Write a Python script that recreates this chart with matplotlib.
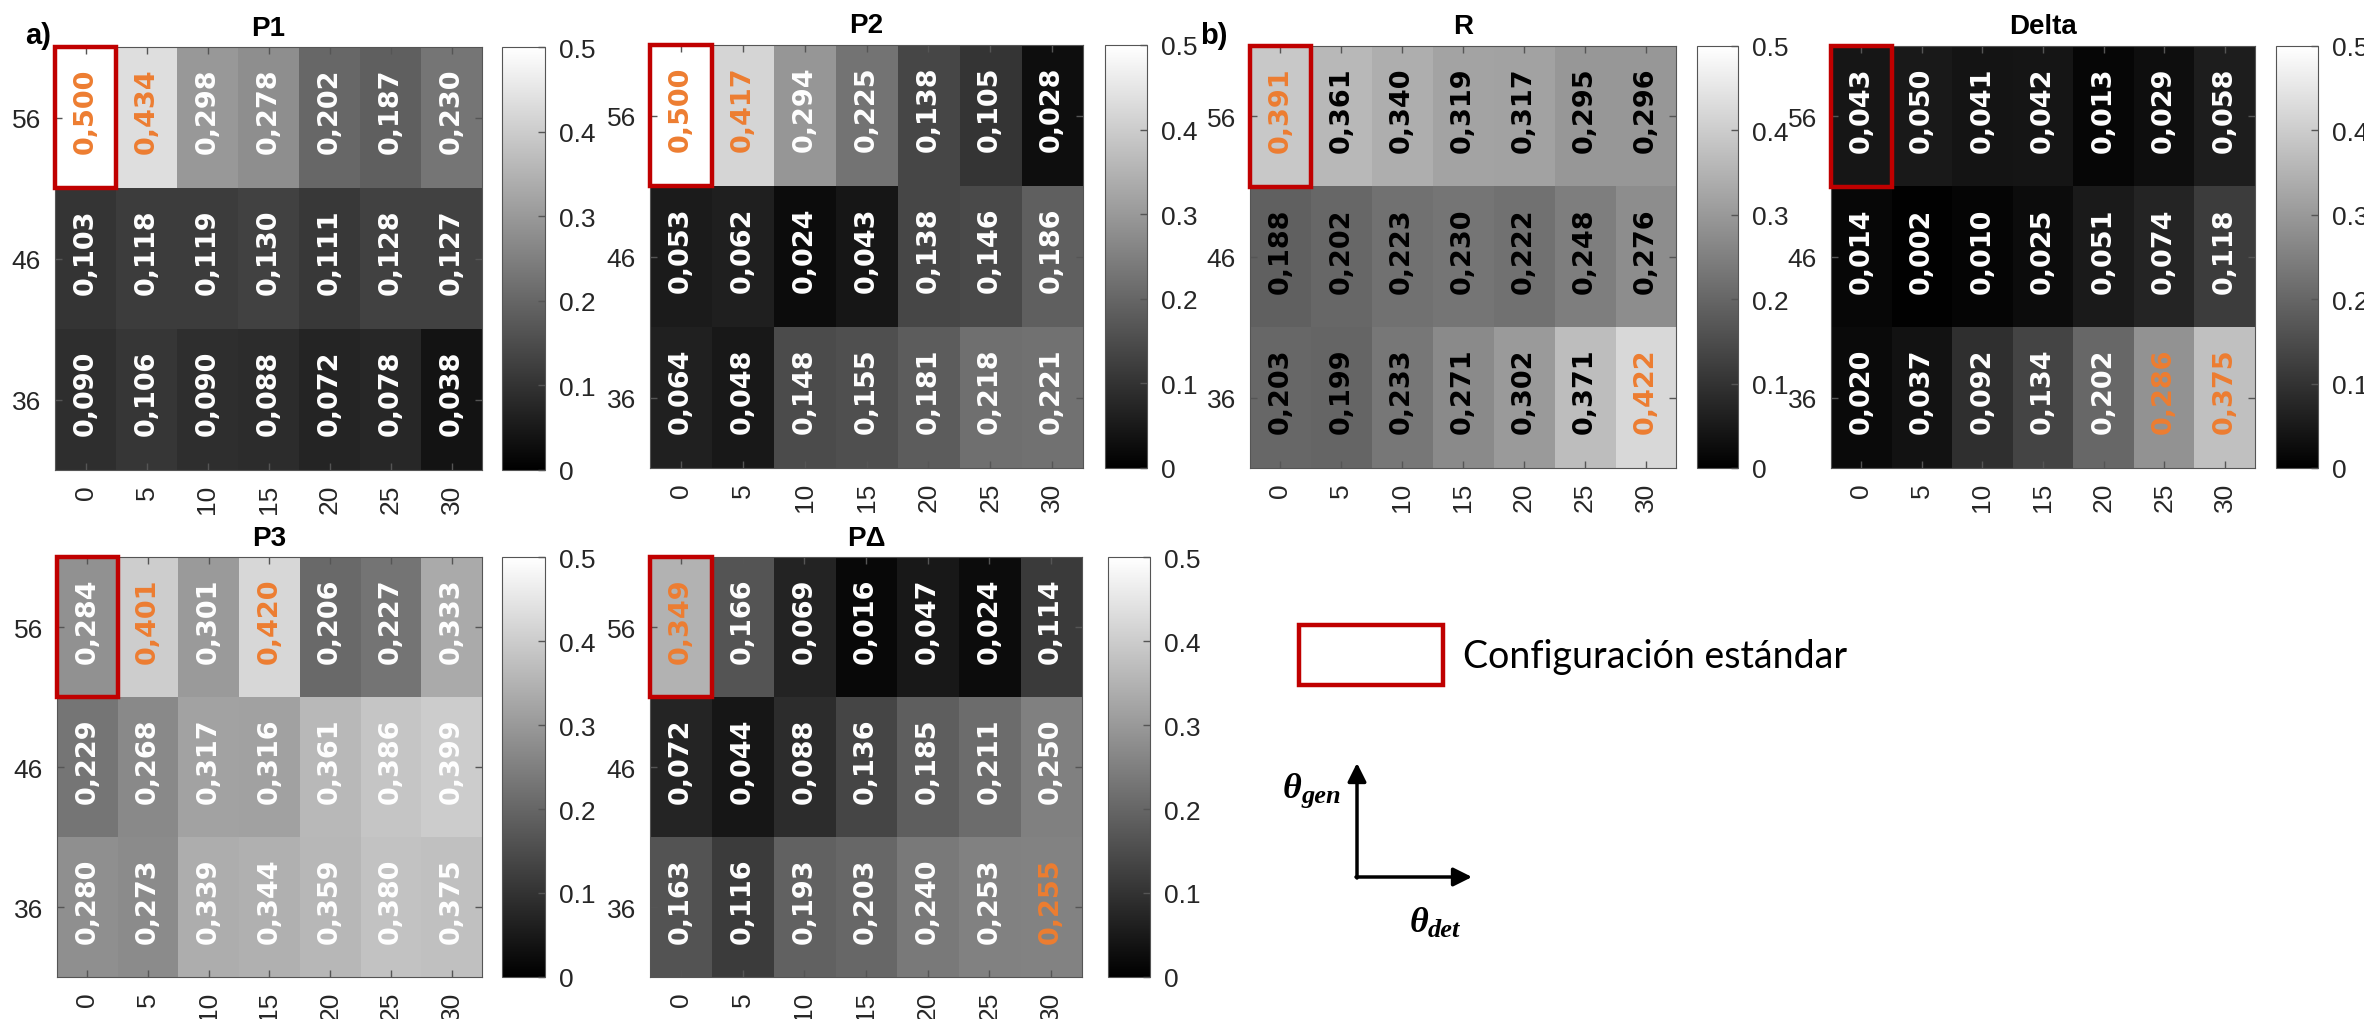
import matplotlib
matplotlib.use('Agg')
import matplotlib.pyplot as plt
import numpy as np
from matplotlib.patches import Rectangle

plt.rcParams['font.family'] = ['Liberation Sans', 'DejaVu Sans']

theta_det = [0, 5, 10, 15, 20, 25, 30]
theta_gen = [56, 46, 36]

p1 = [[0.500, 0.434, 0.298, 0.278, 0.202, 0.187, 0.230],
      [0.103, 0.118, 0.119, 0.130, 0.111, 0.128, 0.127],
      [0.090, 0.106, 0.090, 0.088, 0.072, 0.078, 0.038]]
p2 = [[0.500, 0.417, 0.294, 0.225, 0.138, 0.105, 0.028],
      [0.053, 0.062, 0.024, 0.043, 0.138, 0.146, 0.186],
      [0.064, 0.048, 0.148, 0.155, 0.181, 0.218, 0.221]]
r_vals = [[0.391, 0.361, 0.340, 0.319, 0.317, 0.295, 0.296],
          [0.188, 0.202, 0.223, 0.230, 0.222, 0.248, 0.276],
          [0.203, 0.199, 0.233, 0.271, 0.302, 0.371, 0.422]]
delta = [[0.043, 0.050, 0.041, 0.042, 0.013, 0.029, 0.058],
         [0.014, 0.002, 0.010, 0.025, 0.051, 0.074, 0.118],
         [0.020, 0.037, 0.092, 0.134, 0.202, 0.286, 0.375]]
p3 = [[0.284, 0.401, 0.301, 0.420, 0.206, 0.227, 0.333],
      [0.229, 0.268, 0.317, 0.316, 0.361, 0.386, 0.399],
      [0.280, 0.273, 0.339, 0.344, 0.359, 0.380, 0.375]]
pdelta = [[0.349, 0.166, 0.069, 0.016, 0.047, 0.024, 0.114],
          [0.072, 0.044, 0.088, 0.136, 0.185, 0.211, 0.250],
          [0.163, 0.116, 0.193, 0.203, 0.240, 0.253, 0.255]]

# (row, col) cells whose label is orange
p1_hl = [(0, 0), (0, 1)]
p2_hl = [(0, 0), (0, 1)]
r_hl = [(0, 0), (2, 6)]
delta_hl = [(2, 5), (2, 6)]
p3_hl = [(0, 1), (0, 3)]
pdelta_hl = [(0, 0), (2, 6)]

ORANGE = '#ED7D31'
RED = '#C00000'
EDGE = '#555555'
TICKC = '#262626'

W, H = 2364, 1020
fig = plt.figure(figsize=(W / 100, H / 100), dpi=100)


def px(x, y, w, h):
    return [x / W, 1 - (y + h) / H, w / W, h / H]


def heat(box, cbox, data, title, hl, txt_color='white'):
    ax = fig.add_axes(px(*box))
    im = ax.imshow(np.array(data), cmap='gray', vmin=0, vmax=0.5, aspect='auto')
    ax.set_xticks(range(len(theta_det)))
    ax.set_xticklabels([str(v) for v in theta_det], rotation=90)
    ax.set_yticks(range(len(theta_gen)))
    ax.set_yticklabels([str(v) for v in theta_gen])
    ax.tick_params(direction='in', length=5, width=1, color=EDGE, labelcolor=TICKC,
                   labelsize=19, top=True, right=True, pad=10)
    for s in ax.spines.values():
        s.set_color(EDGE)
    ax.set_title(title, fontsize=20, fontweight='bold', pad=9)
    for i, row in enumerate(data):
        for j, v in enumerate(row):
            c = ORANGE if (i, j) in hl else txt_color
            ax.text(j, i - 0.05, f'{v:.3f}'.replace('.', ','), rotation=90, ha='center',
                    va='center', color=c, fontsize=19.5, fontweight='bold',
                    family='DejaVu Sans')
    ax.add_patch(Rectangle((-0.5, -0.5), 1, 1, fill=False, ec=RED, lw=3.2,
                           clip_on=False, zorder=5))
    cax = fig.add_axes(px(*cbox))
    cb = fig.colorbar(im, cax=cax)
    cb.set_ticks([0, 0.1, 0.2, 0.3, 0.4, 0.5])
    cb.set_ticklabels(['0', '0.1', '0.2', '0.3', '0.4', '0.5'])
    cax.tick_params(direction='in', length=5, width=1, color=EDGE, labelcolor=TICKC,
                    labelsize=19, pad=10)
    cb.outline.set_edgecolor(EDGE)
    return ax


heat((55, 48, 427, 423), (502, 48, 43, 423), p1, 'P1', p1_hl)
heat((650, 46, 433, 423), (1105, 46, 42, 423), p2, 'P2', p2_hl)
heat((1250, 47, 426, 422), (1697, 47, 41, 422), r_vals, 'R', r_hl, txt_color='black')
heat((1831, 47, 424, 422), (2276, 47, 42, 422), delta, 'Delta', delta_hl)
heat((57, 558, 425, 420), (502, 558, 43, 420), p3, 'P3', p3_hl)
heat((650, 558, 432, 420), (1108, 558, 42, 420), pdelta, 'P\u0394', pdelta_hl)

# overlay in pixel coordinates for panel letters and the legend sketch
ov = fig.add_axes([0, 0, 1, 1], zorder=10)
ov.set_xlim(0, W)
ov.set_ylim(H, 0)
ov.axis('off')
ov.patch.set_alpha(0)

ov.text(25, 36, 'a)', fontsize=21, fontweight='bold', ha='left', va='center')
ov.text(1200, 36, 'b)', fontsize=21, fontweight='bold', ha='left', va='center')

ov.add_patch(Rectangle((1299, 626), 144, 60, fill=False, ec=RED, lw=3.2))
ov.text(1463, 657, 'Configuración estándar', fontsize=27, family='Lato',
        ha='left', va='center')

ov.annotate('', xy=(1357, 764), xytext=(1357, 879),
            arrowprops=dict(arrowstyle='-|>', lw=2.5, color='black', mutation_scale=28,
                            shrinkA=0, shrinkB=0))
ov.annotate('', xy=(1472, 878), xytext=(1356, 878),
            arrowprops=dict(arrowstyle='-|>', lw=2.5, color='black', mutation_scale=28,
                            shrinkA=0, shrinkB=0))

sym = dict(family='Liberation Serif', fontweight='bold', fontstyle='italic')
ov.text(1301, 798, '\u03b8', fontsize=26, ha='right', va='baseline', **sym)
ov.text(1301, 803, 'gen', fontsize=19, ha='left', va='baseline', **sym)
ov.text(1428, 932, '\u03b8', fontsize=26, ha='right', va='baseline', **sym)
ov.text(1428, 937, 'det', fontsize=19, ha='left', va='baseline', **sym)

fig.savefig('out.png', dpi=100)
